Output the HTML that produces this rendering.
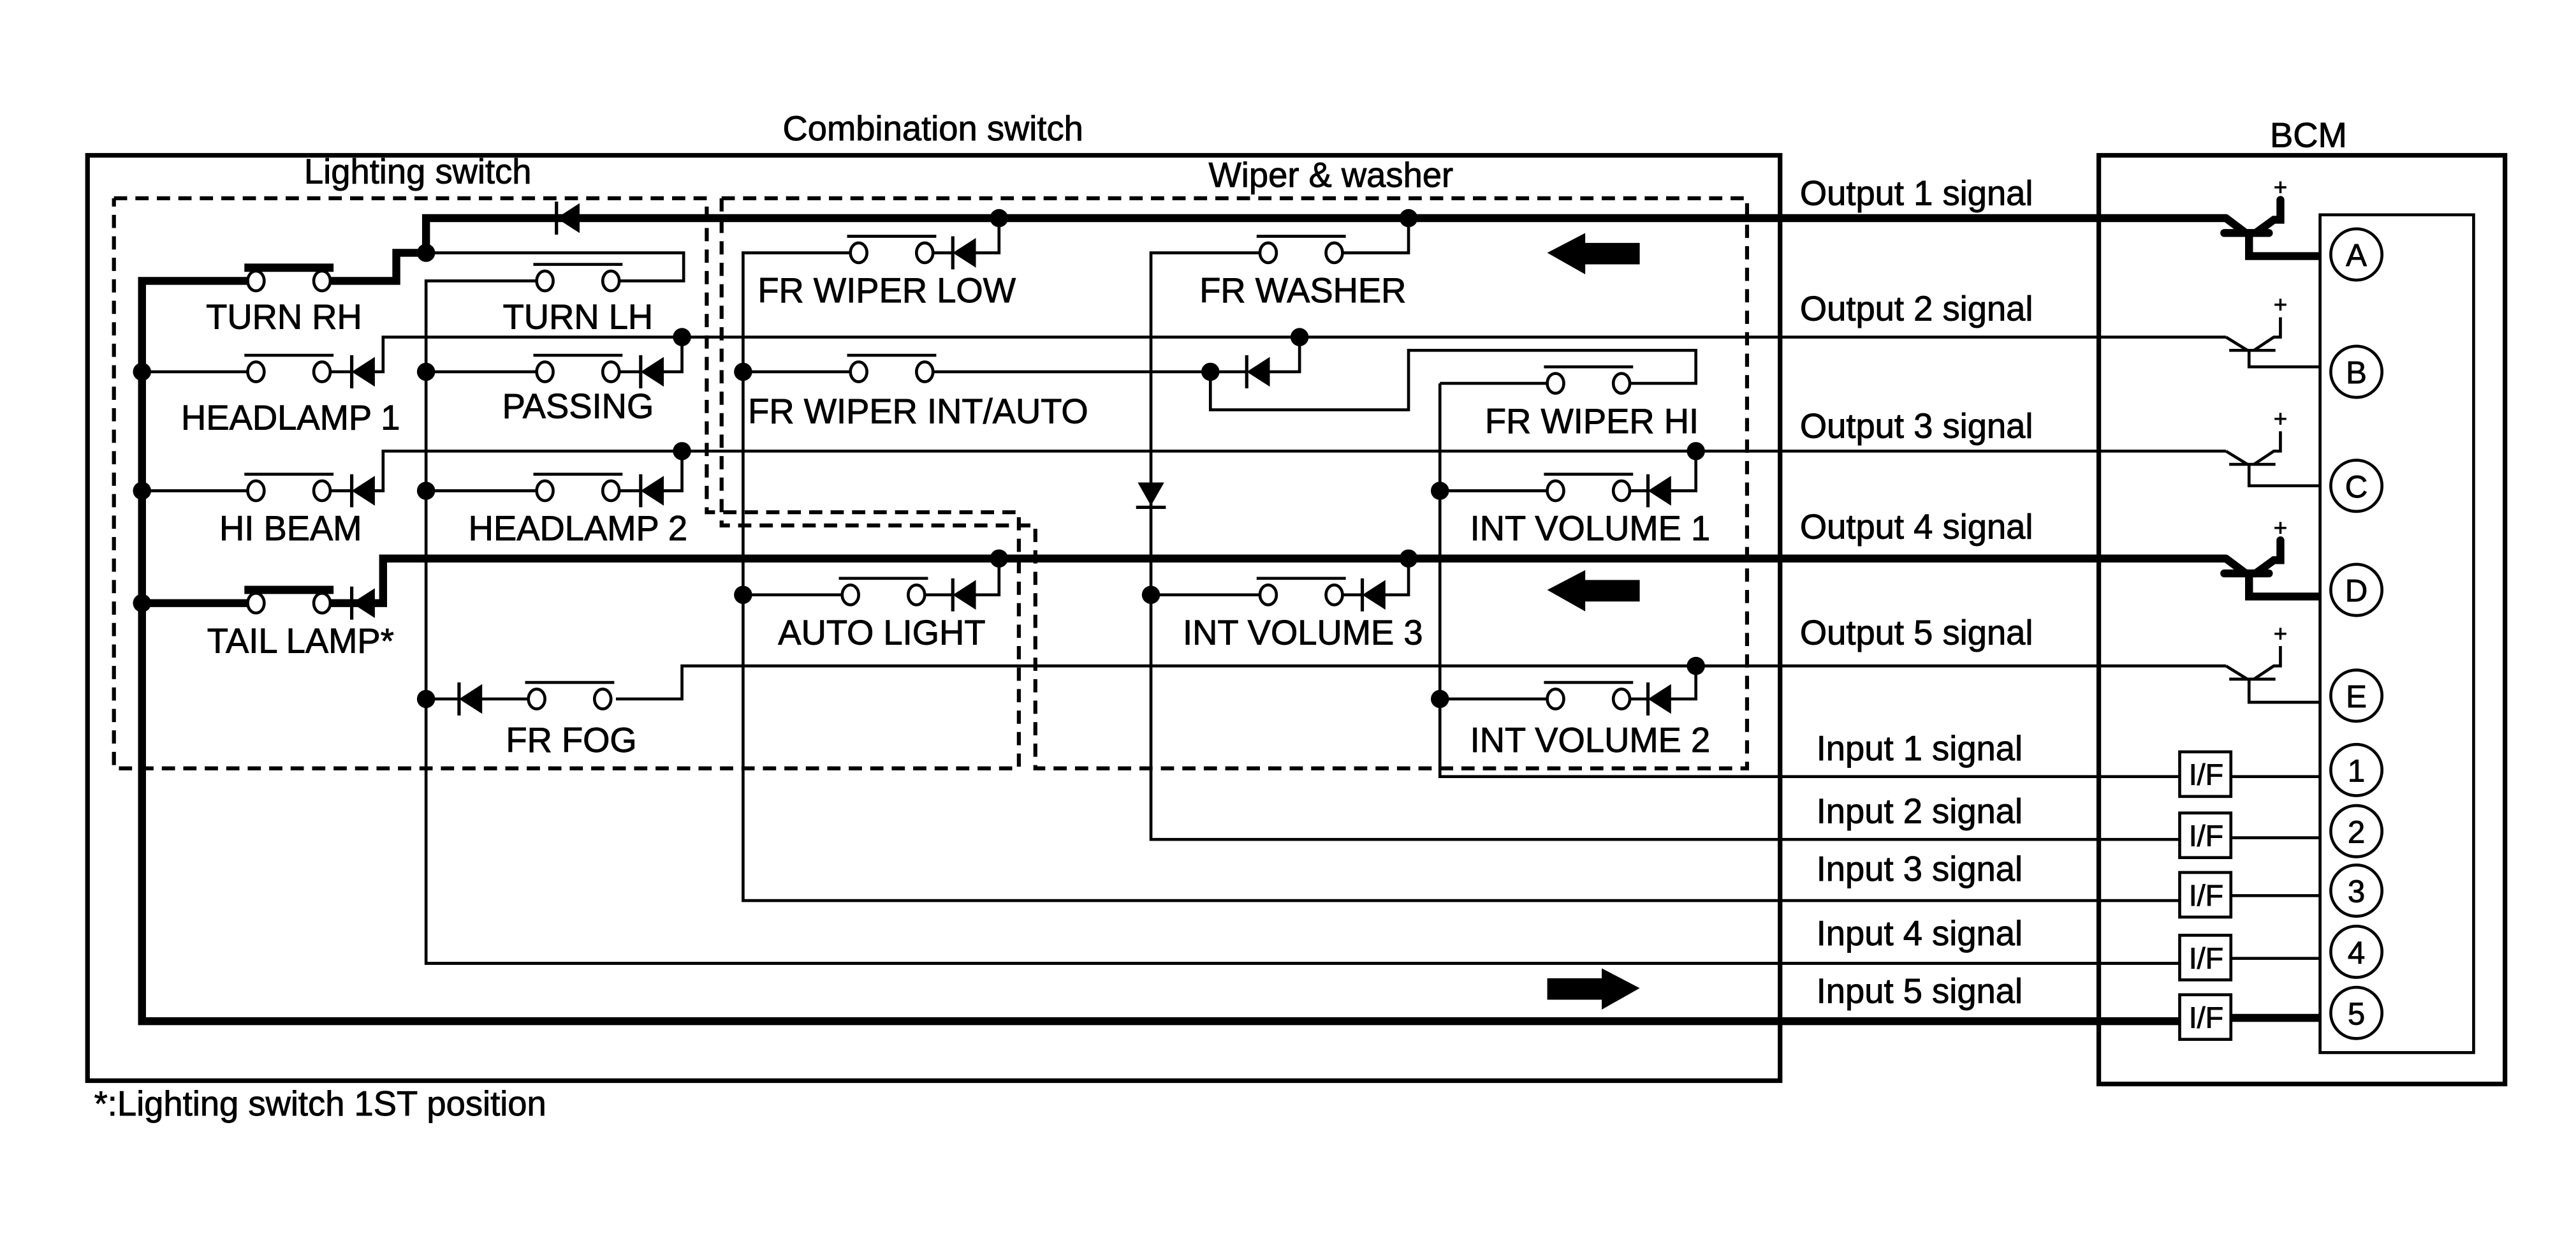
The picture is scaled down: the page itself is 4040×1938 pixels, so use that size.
<!DOCTYPE html>
<html><head><meta charset="utf-8"><style>html,body{margin:0;padding:0;background:#fff}svg{display:block}text{font-family:"Liberation Sans",sans-serif;fill:#000;stroke:#000;stroke-width:0.35}</style></head>
<body>
<svg width="4040" height="1938" viewBox="0 0 1560 748" preserveAspectRatio="none" xmlns="http://www.w3.org/2000/svg">
<defs>
<g id="sw"><line x1="-7" y1="-10" x2="47" y2="-10" stroke="#000" stroke-width="1.8"/><ellipse cx="0" cy="0" rx="5" ry="6" fill="#fff" stroke="#000" stroke-width="1.8"/><ellipse cx="40" cy="0" rx="5" ry="6" fill="#fff" stroke="#000" stroke-width="1.8"/></g>
<g id="swt"><line x1="-7" y1="-8" x2="47" y2="-8" stroke="#000" stroke-width="5"/><ellipse cx="0" cy="0" rx="5" ry="6" fill="#fff" stroke="#000" stroke-width="1.8"/><ellipse cx="40" cy="0" rx="5" ry="6" fill="#fff" stroke="#000" stroke-width="1.8"/></g>
<g id="dl"><polygon points="0,0 14,-9 14,9" fill="#000"/><line x1="0" y1="-10" x2="0" y2="10" stroke="#000" stroke-width="2"/></g>
<circle id="nd" r="5.5" fill="#000"/>
</defs>
<g fill="none" stroke="#000">
<rect x="53" y="94" width="1025" height="560" stroke-width="2.8"/>
<rect x="1271" y="94" width="246" height="562" stroke-width="2.8"/>
<rect x="1405" y="130" width="93" height="507" stroke-width="1.8"/>
<g stroke-width="2.4" stroke-dasharray="8,5">
<polyline points="69,120 428,120 428,310 617,310 617,465 69,465 69,120"/>
<polyline points="437,120 1058,120 1058,465 627,465 627,318 437,318 437,120"/>
</g>
<g stroke-width="4.8" stroke-linejoin="miter">
<polyline points="1348,132 258,132 258,153 240,153 240,170 195,170"/>
<polyline points="150,170 86,170 86,618 1320,618"/>
<line x1="1351" y1="616" x2="1405" y2="616"/>
<polyline points="1348,338 232,338 232,365 200,365"/>
<line x1="150" y1="365" x2="86" y2="365"/>
</g>
<g stroke-width="1.8">
<polyline points="1348,204 232,204 232,225 226,225"/><line x1="213" y1="225" x2="200" y2="225"/><line x1="150" y1="225" x2="86" y2="225"/>
<polyline points="413,204 413,225 401,225"/><line x1="388" y1="225" x2="375" y2="225"/><line x1="325" y1="225" x2="258" y2="225"/>
<polyline points="787,204 787,225 768,225"/><line x1="755" y1="225" x2="733" y2="225"/>
<polyline points="733,225 565,225"/><line x1="515" y1="225" x2="450" y2="225"/>
<polyline points="733,225 733,248 853,248 853,212 1027,212 1027,232 985,232"/><line x1="937" y1="232" x2="872" y2="232"/>
<polyline points="1348,273 232,273 232,297 226,297"/><line x1="213" y1="297" x2="200" y2="297"/><line x1="150" y1="297" x2="86" y2="297"/>
<polyline points="413,273 413,297 401,297"/><line x1="388" y1="297" x2="375" y2="297"/><line x1="325" y1="297" x2="258" y2="297"/>
<polyline points="1027,273 1027,297 1011,297"/><line x1="998" y1="297" x2="987" y2="297"/><line x1="937" y1="297" x2="872" y2="297"/>
<polyline points="1348,403 413,403 413,423 373,423"/><line x1="320" y1="423" x2="291" y2="423"/><line x1="278" y1="423" x2="258" y2="423"/>
<polyline points="1027,403 1027,423 1011,423"/><line x1="998" y1="423" x2="987" y2="423"/><line x1="937" y1="423" x2="872" y2="423"/>
<polyline points="258,153 414,153 414,170 375,170"/><polyline points="325,170 258,170 258,583 1320,583"/>
<polyline points="605,132 605,153 590,153"/><line x1="577" y1="153" x2="562" y2="153"/><polyline points="515,153 450,153 450,545 1320,545"/>
<polyline points="853,132 853,153 813,153"/><polyline points="763,153 697,153 697,508 1320,508"/>
<polyline points="605,338 605,360 590,360"/><line x1="577" y1="360" x2="560" y2="360"/><line x1="510" y1="360" x2="450" y2="360"/>
<polyline points="853,338 853,360 838,360"/><line x1="825" y1="360" x2="813" y2="360"/><line x1="763" y1="360" x2="697" y2="360"/>
<polyline points="872,232 872,470 1320,470"/>
<line x1="1351" y1="470" x2="1405" y2="470"/><line x1="1351" y1="507" x2="1405" y2="507"/><line x1="1351" y1="542" x2="1405" y2="542"/><line x1="1351" y1="580" x2="1405" y2="580"/>
</g>
<g stroke-width="1.8" fill="#fff">
<rect x="1320" y="455" width="31" height="27"/><rect x="1320" y="492" width="31" height="27"/><rect x="1320" y="528" width="31" height="27"/><rect x="1320" y="566" width="31" height="27"/><rect x="1320" y="602" width="31" height="27"/>
</g>
<g stroke-width="1.8">
<circle cx="1427" cy="154" r="15.5"/><circle cx="1427" cy="225" r="15.5"/><circle cx="1427" cy="294" r="15.5"/><circle cx="1427" cy="357" r="15.5"/><circle cx="1427" cy="421" r="15.5"/>
<circle cx="1427" cy="466" r="15.5"/><circle cx="1427" cy="503" r="15.5"/><circle cx="1427" cy="539" r="15.5"/><circle cx="1427" cy="576" r="15.5"/><circle cx="1427" cy="613" r="15.5"/>
</g>
<g stroke-width="4.8" stroke-linecap="round">
<polyline points="1348,132 1360,141"/><line x1="1347" y1="141" x2="1374" y2="141"/><polyline points="1366,141 1377,133 1381,133 1381,121"/><polyline points="1362,141 1362,155 1405,155" stroke-linecap="butt"/>
<polyline points="1348,338 1360,347"/><line x1="1347" y1="347" x2="1374" y2="347"/><polyline points="1366,347 1377,339 1381,339 1381,327"/><polyline points="1362,347 1362,361 1405,361" stroke-linecap="butt"/>
</g>
<g stroke-width="1.8">
<polyline points="1348,204 1361,212"/><line x1="1350" y1="212" x2="1378" y2="212"/><polyline points="1365,212 1377,204 1381,204 1381,192"/><polyline points="1362,212 1362,222 1405,222"/>
<polyline points="1348,273 1361,281"/><line x1="1350" y1="281" x2="1378" y2="281"/><polyline points="1365,281 1377,273 1381,273 1381,261"/><polyline points="1362,281 1362,294 1405,294"/>
<polyline points="1348,403 1361,411"/><line x1="1350" y1="411" x2="1378" y2="411"/><polyline points="1365,411 1377,403 1381,403 1381,391"/><polyline points="1362,411 1362,425 1405,425"/>
</g>
</g>
<use href="#swt" x="155" y="170"/><use href="#sw" x="330" y="170"/>
<use href="#sw" x="155" y="225"/><use href="#sw" x="330" y="225"/>
<use href="#sw" x="155" y="297"/><use href="#sw" x="330" y="297"/>
<use href="#swt" x="155" y="365"/><use href="#sw" x="325" y="423"/>
<use href="#sw" x="520" y="153"/><use href="#sw" x="520" y="225"/><use href="#sw" x="768" y="153"/>
<use href="#sw" x="515" y="360"/><use href="#sw" x="768" y="360"/>
<use href="#sw" x="942" y="232"/><use href="#sw" x="942" y="297"/><use href="#sw" x="942" y="423"/>
<use href="#dl" x="337" y="132"/>
<use href="#dl" x="213" y="225"/><use href="#dl" x="388" y="225"/>
<use href="#dl" x="213" y="297"/><use href="#dl" x="388" y="297"/>
<use href="#dl" x="213" y="365"/><use href="#dl" x="278" y="423"/>
<use href="#dl" x="577" y="153"/><use href="#dl" x="577" y="360"/><use href="#dl" x="825" y="360"/>
<use href="#dl" x="755" y="225"/><use href="#dl" x="998" y="297"/><use href="#dl" x="998" y="423"/>
<polygon points="689,292 705,292 697,306" fill="#000"/><line x1="688" y1="307" x2="706" y2="307" stroke="#000" stroke-width="2"/>
<use href="#nd" x="258" y="153"/><use href="#nd" x="605" y="132"/><use href="#nd" x="853" y="132"/>
<use href="#nd" x="86" y="225"/><use href="#nd" x="258" y="225"/><use href="#nd" x="413" y="204"/><use href="#nd" x="787" y="204"/><use href="#nd" x="733" y="225"/><use href="#nd" x="450" y="225"/>
<use href="#nd" x="86" y="297"/><use href="#nd" x="258" y="297"/><use href="#nd" x="413" y="273"/><use href="#nd" x="1027" y="273"/><use href="#nd" x="872" y="297"/>
<use href="#nd" x="86" y="365"/><use href="#nd" x="605" y="338"/><use href="#nd" x="853" y="338"/><use href="#nd" x="450" y="360"/><use href="#nd" x="697" y="360"/>
<use href="#nd" x="258" y="423"/><use href="#nd" x="1027" y="403"/><use href="#nd" x="872" y="423"/>
<polygon points="937,153 960,141 960,147 993,147 993,160 960,160 960,166" fill="#000"/>
<polygon points="937,357 960,345 960,351 993,351 993,364 960,364 960,370" fill="#000"/>
<polygon points="993,598 970,586 970,592 937,592 937,605 970,605 970,611" fill="#000"/>
<g font-size="21">
<text x="565" y="85" text-anchor="middle">Combination switch</text>
<text x="1398" y="89" text-anchor="middle">BCM</text>
<text x="253" y="111" text-anchor="middle">Lighting switch</text>
<text x="806" y="113" text-anchor="middle">Wiper &amp; washer</text>
<text x="172" y="199" text-anchor="middle">TURN RH</text>
<text x="350" y="199" text-anchor="middle">TURN LH</text>
<text x="176" y="260" text-anchor="middle">HEADLAMP 1</text>
<text x="350" y="253" text-anchor="middle">PASSING</text>
<text x="176" y="327" text-anchor="middle">HI BEAM</text>
<text x="350" y="327" text-anchor="middle">HEADLAMP 2</text>
<text x="182" y="395" text-anchor="middle">TAIL LAMP*</text>
<text x="346" y="455" text-anchor="middle">FR FOG</text>
<text x="537" y="183" text-anchor="middle">FR WIPER LOW</text>
<text x="453" y="256">FR WIPER INT/AUTO</text>
<text x="789" y="183" text-anchor="middle">FR WASHER</text>
<text x="534" y="390" text-anchor="middle">AUTO LIGHT</text>
<text x="789" y="390" text-anchor="middle">INT VOLUME 3</text>
<text x="964" y="262" text-anchor="middle">FR WIPER HI</text>
<text x="963" y="327" text-anchor="middle">INT VOLUME 1</text>
<text x="963" y="455" text-anchor="middle">INT VOLUME 2</text>
<text x="1090" y="124">Output 1 signal</text>
<text x="1090" y="194">Output 2 signal</text>
<text x="1090" y="265">Output 3 signal</text>
<text x="1090" y="326">Output 4 signal</text>
<text x="1090" y="390">Output 5 signal</text>
<text x="1100" y="460">Input 1 signal</text>
<text x="1100" y="498">Input 2 signal</text>
<text x="1100" y="533">Input 3 signal</text>
<text x="1100" y="572">Input 4 signal</text>
<text x="1100" y="607">Input 5 signal</text>
<text x="57" y="675">*:Lighting switch 1ST position</text>
</g>
<g font-size="14" text-anchor="middle">
<text x="1381" y="118">+</text><text x="1381" y="189">+</text><text x="1381" y="258">+</text><text x="1381" y="324">+</text><text x="1381" y="388">+</text>
</g>
<g font-size="18" text-anchor="middle">
<text x="1336" y="475">I/F</text><text x="1336" y="512">I/F</text><text x="1336" y="548">I/F</text><text x="1336" y="586">I/F</text><text x="1336" y="622">I/F</text>
</g>
<g font-size="19" text-anchor="middle">
<text x="1427" y="161">A</text><text x="1427" y="232">B</text><text x="1427" y="301">C</text><text x="1427" y="364">D</text><text x="1427" y="428">E</text>
<text x="1427" y="473">1</text><text x="1427" y="510">2</text><text x="1427" y="546">3</text><text x="1427" y="583">4</text><text x="1427" y="620">5</text>
</g>
</svg>
</body></html>
